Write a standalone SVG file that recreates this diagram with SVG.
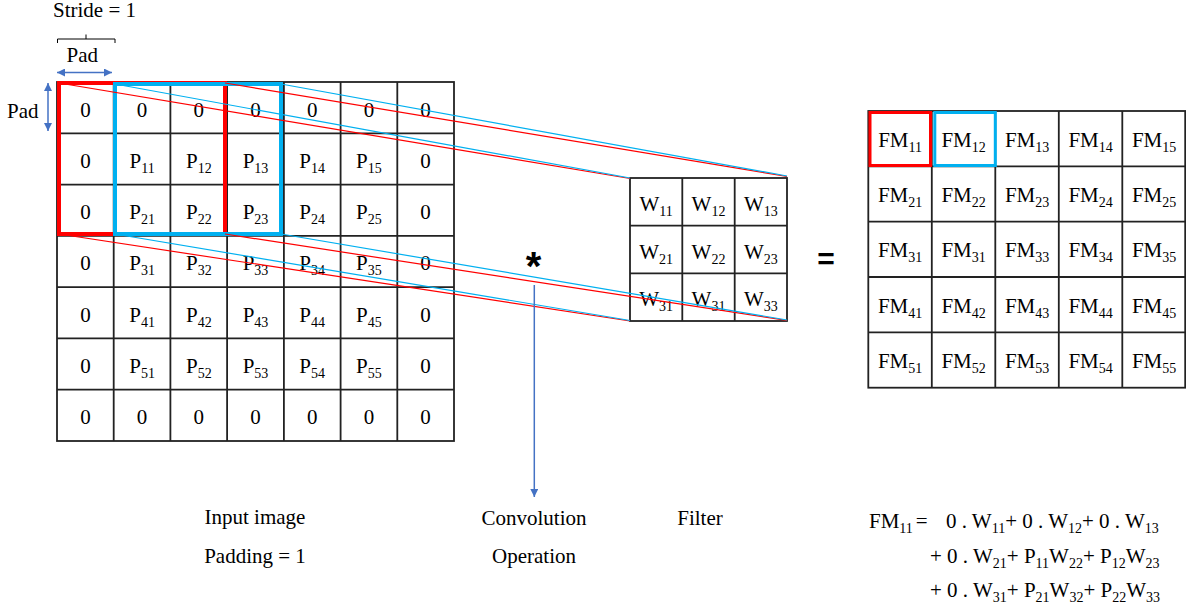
<svg xmlns="http://www.w3.org/2000/svg" width="1186" height="615" viewBox="0 0 1186 615">
  <style>
    .t { font-family: "Liberation Serif", "Times New Roman", serif; font-size: 21px; fill: #000; }
    .c { text-anchor: middle; }
    .s { font-size: 14px; }
    .grid { fill: none; stroke: #222; stroke-width: 1.8; }
    .red { stroke: #ff0000; stroke-width: 1.2; fill: none; }
    .blue { stroke: #00b0f0; stroke-width: 1.2; fill: none; }
    .arr { stroke: #4472c4; stroke-width: 1.5; fill: none; }
    .sym { font-family: "Liberation Sans", Arial, sans-serif; font-weight: bold; fill: #000; text-anchor: middle; }
  </style>
  <defs>
    <marker id="ah" viewBox="0 0 10 10" refX="10" refY="5" markerWidth="8" markerHeight="8" markerUnits="userSpaceOnUse" orient="auto-start-reverse">
      <path d="M0,0 L10,5 L0,10 z" fill="#4472c4"/>
    </marker>
  </defs>
  <rect width="1186" height="615" fill="#fff"/>

  <!-- stride / padding annotations -->
  <g id="stride">
    <text class="t" x="53" y="17">Stride = 1</text>
    <path d="M57.5,43 V39 H115 V43 M86,39 V34.5" fill="none" stroke="#000" stroke-width="1"/>
  </g>
  <g id="pad-top">
    <text class="t" x="66.5" y="61.7">Pad</text>
    <line class="arr" x1="57" y1="72.5" x2="112" y2="72.5" marker-start="url(#ah)" marker-end="url(#ah)"/>
  </g>
  <g id="pad-left">
    <text class="t" x="7" y="118">Pad</text>
    <line class="arr" x1="48" y1="83" x2="48" y2="131" marker-start="url(#ah)" marker-end="url(#ah)"/>
  </g>

  <!-- padded input image 7x7 -->
  <g id="input">
    <rect class="grid" x="57" y="82" width="397" height="359"/>
    <path class="grid" d="M113.7,82 V441 M170.4,82 V441 M227.1,82 V441 M283.9,82 V441 M340.6,82 V441 M397.3,82 V441
      M57,133.3 H454 M57,184.6 H454 M57,235.9 H454 M57,287.1 H454 M57,338.4 H454 M57,389.7 H454"/>
    <g class="t c">
      <!-- row 0 -->
      <text x="85.4" y="116.5">0</text><text x="142.1" y="116.5">0</text><text x="198.8" y="116.5">0</text><text x="255.5" y="116.5">0</text><text x="312.2" y="116.5">0</text><text x="368.9" y="116.5">0</text><text x="425.6" y="116.5">0</text>
      <!-- row 1 -->
      <text x="85.4" y="167.8">0</text>
      <text x="142.1" y="167.8">P<tspan class="s" dy="5">11</tspan></text>
      <text x="198.8" y="167.8">P<tspan class="s" dy="5">12</tspan></text>
      <text x="255.5" y="167.8">P<tspan class="s" dy="5">13</tspan></text>
      <text x="312.2" y="167.8">P<tspan class="s" dy="5">14</tspan></text>
      <text x="368.9" y="167.8">P<tspan class="s" dy="5">15</tspan></text>
      <text x="425.6" y="167.8">0</text>
      <!-- row 2 -->
      <text x="85.4" y="219.1">0</text>
      <text x="142.1" y="219.1">P<tspan class="s" dy="5">21</tspan></text>
      <text x="198.8" y="219.1">P<tspan class="s" dy="5">22</tspan></text>
      <text x="255.5" y="219.1">P<tspan class="s" dy="5">23</tspan></text>
      <text x="312.2" y="219.1">P<tspan class="s" dy="5">24</tspan></text>
      <text x="368.9" y="219.1">P<tspan class="s" dy="5">25</tspan></text>
      <text x="425.6" y="219.1">0</text>
      <!-- row 3 -->
      <text x="85.4" y="270.4">0</text>
      <text x="142.1" y="270.4">P<tspan class="s" dy="5">31</tspan></text>
      <text x="198.8" y="270.4">P<tspan class="s" dy="5">32</tspan></text>
      <text x="255.5" y="270.4">P<tspan class="s" dy="5">33</tspan></text>
      <text x="312.2" y="270.4">P<tspan class="s" dy="5">34</tspan></text>
      <text x="368.9" y="270.4">P<tspan class="s" dy="5">35</tspan></text>
      <text x="425.6" y="270.4">0</text>
      <!-- row 4 -->
      <text x="85.4" y="321.7">0</text>
      <text x="142.1" y="321.7">P<tspan class="s" dy="5">41</tspan></text>
      <text x="198.8" y="321.7">P<tspan class="s" dy="5">42</tspan></text>
      <text x="255.5" y="321.7">P<tspan class="s" dy="5">43</tspan></text>
      <text x="312.2" y="321.7">P<tspan class="s" dy="5">44</tspan></text>
      <text x="368.9" y="321.7">P<tspan class="s" dy="5">45</tspan></text>
      <text x="425.6" y="321.7">0</text>
      <!-- row 5 -->
      <text x="85.4" y="372.9">0</text>
      <text x="142.1" y="372.9">P<tspan class="s" dy="5">51</tspan></text>
      <text x="198.8" y="372.9">P<tspan class="s" dy="5">52</tspan></text>
      <text x="255.5" y="372.9">P<tspan class="s" dy="5">53</tspan></text>
      <text x="312.2" y="372.9">P<tspan class="s" dy="5">54</tspan></text>
      <text x="368.9" y="372.9">P<tspan class="s" dy="5">55</tspan></text>
      <text x="425.6" y="372.9">0</text>
      <!-- row 6 -->
      <text x="85.4" y="424.2">0</text><text x="142.1" y="424.2">0</text><text x="198.8" y="424.2">0</text><text x="255.5" y="424.2">0</text><text x="312.2" y="424.2">0</text><text x="368.9" y="424.2">0</text><text x="425.6" y="424.2">0</text>
    </g>
    <!-- receptive windows for FM11 (red) and FM12 (blue) -->
    <rect x="59" y="83" width="166" height="151" fill="none" stroke="#ff0000" stroke-width="4"/>
    <rect x="115" y="84" width="166" height="150" fill="none" stroke="#00b0f0" stroke-width="4"/>
  </g>

  <!-- 3x3 filter -->
  <g id="filter">
    <rect class="grid" x="630" y="178" width="157" height="143"/>
    <path class="grid" d="M682.3,178 V321 M734.7,178 V321 M630,225.7 H787 M630,273.3 H787"/>
    <g class="t c">
      <text x="656.2" y="211">W<tspan class="s" dy="5">11</tspan></text>
      <text x="708.5" y="211">W<tspan class="s" dy="5">12</tspan></text>
      <text x="760.8" y="211">W<tspan class="s" dy="5">13</tspan></text>
      <text x="656.2" y="258.7">W<tspan class="s" dy="5">21</tspan></text>
      <text x="708.5" y="258.7">W<tspan class="s" dy="5">22</tspan></text>
      <text x="760.8" y="258.7">W<tspan class="s" dy="5">23</tspan></text>
      <text x="656.2" y="306.3">W<tspan class="s" dy="5">31</tspan></text>
      <text x="708.5" y="306.3">W<tspan class="s" dy="5">31</tspan></text>
      <text x="760.8" y="306.3">W<tspan class="s" dy="5">33</tspan></text>
    </g>
  </g>

  <!-- projection lines from the windows onto the filter, and the operation arrow -->
  <g id="connectors">
    <line class="red" x1="59" y1="83" x2="630" y2="178.5"/>
    <line class="red" x1="225" y1="83" x2="787" y2="176.5"/>
    <line class="red" x1="59" y1="234" x2="630" y2="321"/>
    <line class="red" x1="225" y1="234" x2="787" y2="320.5"/>
    <line class="blue" x1="115" y1="84" x2="630" y2="178"/>
    <line class="blue" x1="281" y1="84" x2="787" y2="176"/>
    <line class="blue" x1="115" y1="234" x2="630" y2="320.5"/>
    <line class="blue" x1="281" y1="234" x2="787" y2="320"/>
    <line class="arr" x1="534.3" y1="285" x2="534.3" y2="497" marker-end="url(#ah)"/>
  </g>

  <g id="operators">
    <text class="sym" x="533.5" y="280" font-size="40">*</text>
    <text class="sym" x="826" y="269" font-size="30">=</text>
  </g>

  <!-- 5x5 feature map -->
  <g id="feature-map">
    <rect class="grid" x="868.3" y="111" width="316.9" height="276.7"/>
    <path class="grid" d="M931.8,111 V387.7 M995.3,111 V387.7 M1058.8,111 V387.7 M1122.3,111 V387.7
      M868.3,166.3 H1185.2 M868.3,221.7 H1185.2 M868.3,277 H1185.2 M868.3,332.3 H1185.2"/>
    <g class="t c">
      <text x="900.1" y="146.5">FM<tspan class="s" dy="5">11</tspan></text>
      <text x="963.6" y="146.5">FM<tspan class="s" dy="5">12</tspan></text>
      <text x="1027.1" y="146.5">FM<tspan class="s" dy="5">13</tspan></text>
      <text x="1090.6" y="146.5">FM<tspan class="s" dy="5">14</tspan></text>
      <text x="1154.1" y="146.5">FM<tspan class="s" dy="5">15</tspan></text>
      <text x="900.1" y="201.8">FM<tspan class="s" dy="5">21</tspan></text>
      <text x="963.6" y="201.8">FM<tspan class="s" dy="5">22</tspan></text>
      <text x="1027.1" y="201.8">FM<tspan class="s" dy="5">23</tspan></text>
      <text x="1090.6" y="201.8">FM<tspan class="s" dy="5">24</tspan></text>
      <text x="1154.1" y="201.8">FM<tspan class="s" dy="5">25</tspan></text>
      <text x="900.1" y="257.2">FM<tspan class="s" dy="5">31</tspan></text>
      <text x="963.6" y="257.2">FM<tspan class="s" dy="5">31</tspan></text>
      <text x="1027.1" y="257.2">FM<tspan class="s" dy="5">33</tspan></text>
      <text x="1090.6" y="257.2">FM<tspan class="s" dy="5">34</tspan></text>
      <text x="1154.1" y="257.2">FM<tspan class="s" dy="5">35</tspan></text>
      <text x="900.1" y="312.5">FM<tspan class="s" dy="5">41</tspan></text>
      <text x="963.6" y="312.5">FM<tspan class="s" dy="5">42</tspan></text>
      <text x="1027.1" y="312.5">FM<tspan class="s" dy="5">43</tspan></text>
      <text x="1090.6" y="312.5">FM<tspan class="s" dy="5">44</tspan></text>
      <text x="1154.1" y="312.5">FM<tspan class="s" dy="5">45</tspan></text>
      <text x="900.1" y="367.8">FM<tspan class="s" dy="5">51</tspan></text>
      <text x="963.6" y="367.8">FM<tspan class="s" dy="5">52</tspan></text>
      <text x="1027.1" y="367.8">FM<tspan class="s" dy="5">53</tspan></text>
      <text x="1090.6" y="367.8">FM<tspan class="s" dy="5">54</tspan></text>
      <text x="1154.1" y="367.8">FM<tspan class="s" dy="5">55</tspan></text>
    </g>
    <rect x="870" y="112.5" width="60.5" height="53" fill="none" stroke="#ff0000" stroke-width="3"/>
    <rect x="934.8" y="112.5" width="60.5" height="53" fill="none" stroke="#00b0f0" stroke-width="3"/>
  </g>

  <!-- captions -->
  <g id="captions" class="t c">
    <text x="255" y="524">Input image</text>
    <text x="255" y="563">Padding = 1</text>
    <text x="534" y="525">Convolution</text>
    <text x="534" y="563">Operation</text>
    <text x="700" y="525">Filter</text>
  </g>

  <!-- worked expansion of FM11 -->
  <g id="equation" class="t">
    <text x="869" y="528">FM<tspan class="s" dy="5">11</tspan><tspan dy="-5" dx="3">=</tspan></text>
    <text x="946" y="528">0 . W<tspan class="s" dy="5">11</tspan><tspan dy="-5">+ 0 . W</tspan><tspan class="s" dy="5">12</tspan><tspan dy="-5">+ 0 . W</tspan><tspan class="s" dy="5">13</tspan></text>
    <text x="930" y="563">+ 0 . W<tspan class="s" dy="5">21</tspan><tspan dy="-5">+ P</tspan><tspan class="s" dy="5">11</tspan><tspan dy="-5">W</tspan><tspan class="s" dy="5">22</tspan><tspan dy="-5">+ P</tspan><tspan class="s" dy="5">12</tspan><tspan dy="-5">W</tspan><tspan class="s" dy="5">23</tspan></text>
    <text x="930" y="597">+ 0 . W<tspan class="s" dy="5">31</tspan><tspan dy="-5">+ P</tspan><tspan class="s" dy="5">21</tspan><tspan dy="-5">W</tspan><tspan class="s" dy="5">32</tspan><tspan dy="-5">+ P</tspan><tspan class="s" dy="5">22</tspan><tspan dy="-5">W</tspan><tspan class="s" dy="5">33</tspan></text>
  </g>
</svg>
